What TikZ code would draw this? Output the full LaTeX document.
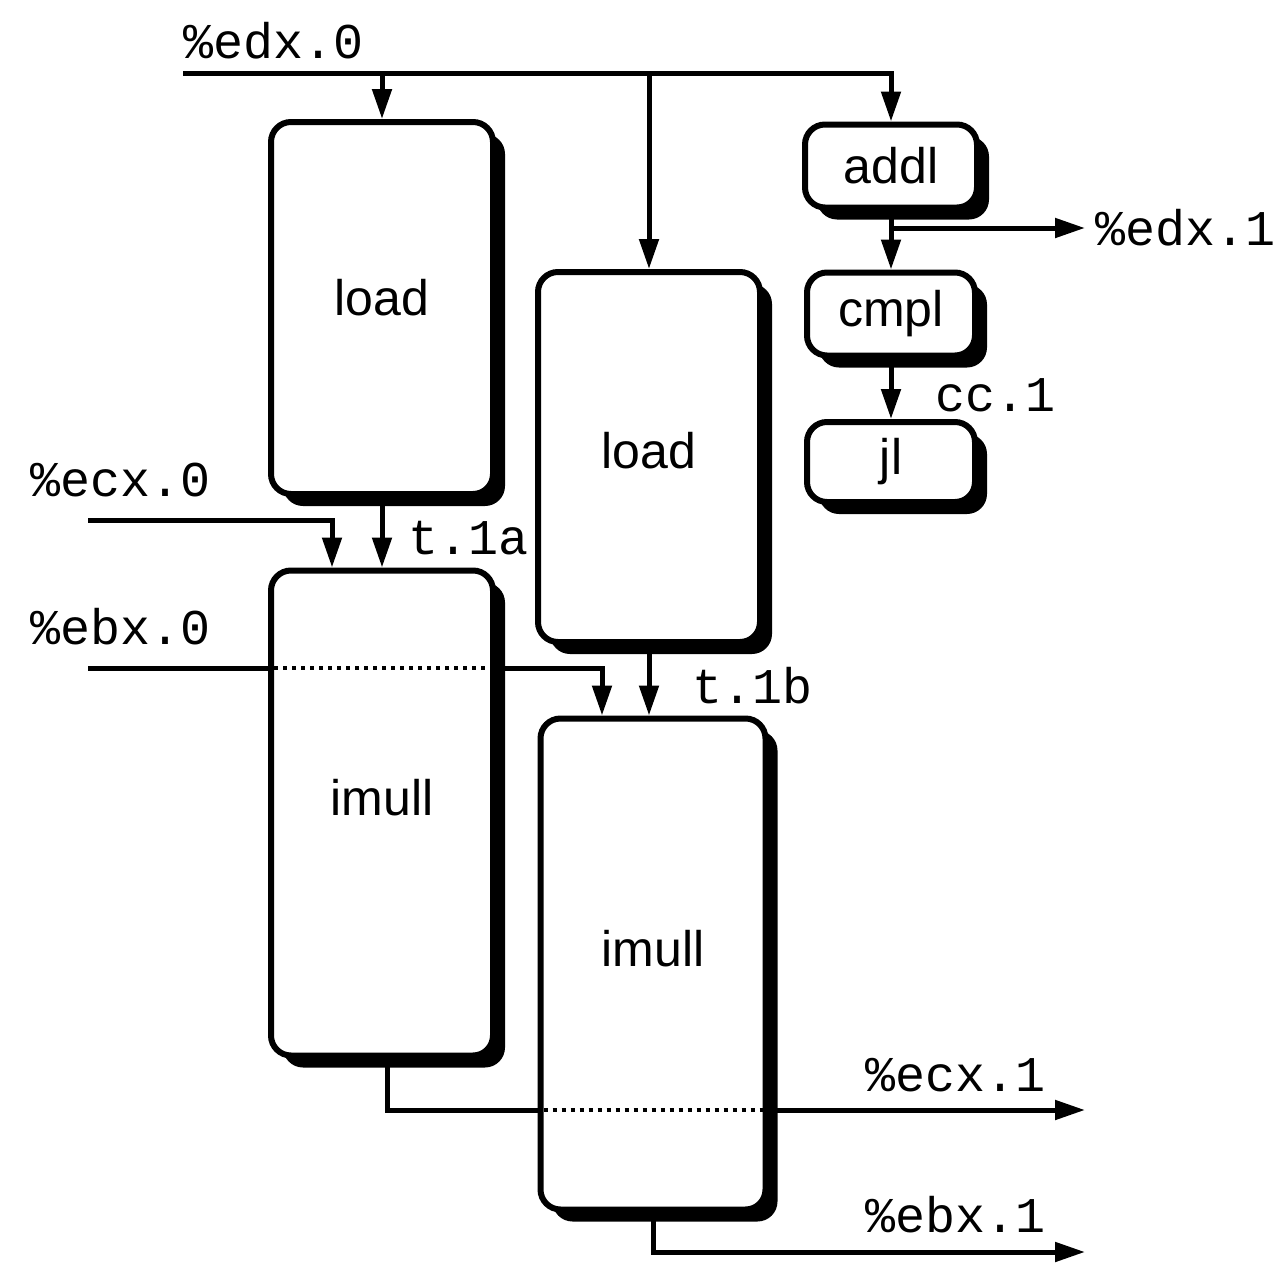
\documentclass[tikz,border=0pt]{standalone}
\usepackage{fontspec}
\setmainfont{Liberation Sans}
\newfontfamily\monof{Liberation Mono}
\usetikzlibrary{arrows.meta,shadows}
\pgfdeclarelayer{bg}
\pgfsetlayers{bg,main}
\begin{document}
\begin{tikzpicture}[x=1pt,y=-1pt,
  box/.style={draw,line width=6pt,fill=white,rounded corners=20pt,inner sep=0pt,
    font=\fontsize{50}{60}\selectfont,
    drop shadow={shadow xshift=12pt,shadow yshift=-12pt,fill=black,opacity=1}},
  wire/.style={line width=5pt},
  arr/.style={wire,-{Triangle[length=30pt,width=19pt]}},
  lab/.style={font=\monof\fontsize{50}{60}\selectfont,inner sep=0pt,anchor=west},
  dots/.style={line width=4pt,dash pattern=on 4pt off 5pt,shorten <=6pt,shorten >=6pt}]
\useasboundingbox (0,0) rectangle (1288,1266);

% boxes
\node[box,minimum width=222pt,minimum height=372pt] (load1) at (382,308) {\raisebox{22pt}{load}};
\node[box,minimum width=222pt,minimum height=370pt] (load2) at (649,457) {\raisebox{14pt}{load}};
\node[box,minimum width=222pt,minimum height=485pt] (imull1) at (382,813) {\raisebox{32pt}{imull}};
\node[box,minimum width=225pt,minimum height=491pt] (imull2) at (653,964) {\raisebox{32pt}{imull}};
\node[box,minimum width=172pt,minimum height=83pt] (addl) at (891,166) {addl};
\node[box,minimum width=168pt,minimum height=83pt] (cmpl) at (891,314) {cmpl};
\node[box,minimum width=168pt,minimum height=80pt] (jl) at (891,462) {jl};

% connectors
\coordinate (edxin) at (183,73);
\coordinate (edx1) at (1085,228);
\coordinate (ecxin) at (88,520);
\coordinate (ebxin) at (88,668);
\coordinate (ecx1) at (1085,1110);
\coordinate (ebx1) at (1085,1252);
\begin{pgfonlayer}{bg}
\draw[arr] (edxin) -| (addl.north);
\draw[arr] (load1.north |- edxin) -- (load1.north);
\draw[arr] (load2.north |- edxin) -- (load2.north);
\draw[arr] (addl.south) -- (cmpl.north);
\draw[arr] (addl.south |- edx1) -- (edx1);
\draw[arr] (cmpl.south) -- (jl.north);
\draw[arr] (ecxin) -| ([xshift=-50pt]imull1.north);
\draw[arr] (load1.south) -- (imull1.north);
\draw[arr] (ebxin) -| ([xshift=-51pt]imull2.north);
\draw[arr] (load2.south) -- (load2.south |- imull2.north);
\draw[arr] ([xshift=5pt]imull1.south) |- (ecx1);
\draw[arr] (imull2.south) |- (ebx1);
\end{pgfonlayer}
\draw[dots] (imull1.west |- ebxin) -- (imull1.east |- ebxin);
\draw[dots] (imull2.west |- ecx1) -- (imull2.east |- ecx1);

% labels
\node[lab] (Ledx0) at (183,41) {\%edx.0};
\node[lab] (Ledx1) at (1095,228) {\%edx.1};
\node[lab] (Lcc1) at (935,395) {cc.1};
\node[lab] (Lecx0) at (30,480) {\%ecx.0};
\node[lab] (Lt1a) at (408,538) {t.1a};
\node[lab] (Lebx0) at (30,627) {\%ebx.0};
\node[lab] (Lt1b) at (692,686) {t.1b};
\node[lab] (Lecx1) at (865,1075) {\%ecx.1};
\node[lab] (Lebx1) at (865,1215) {\%ebx.1};
\end{tikzpicture}
\end{document}
